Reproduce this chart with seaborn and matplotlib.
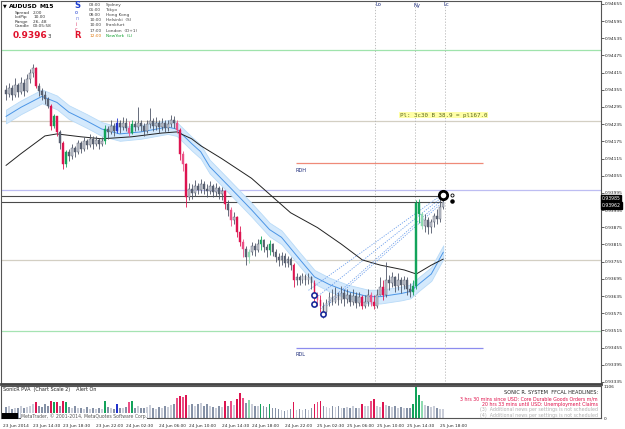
import numpy as np
import pandas as pd
import seaborn as sns
import matplotlib.pyplot as plt
from matplotlib.patches import Rectangle

sns.set_theme(style="white")
plt.rcParams['font.family'] = ['DejaVu Sans']

# AUDUSD M15, prices in points above 0.93000
opens = [1355,1340,1362,1336,1372,1346,1380,1352,1392,1412,
         1430,1368,1350,1338,1322,1300,1228,1262,1208,1170,
         1095,1139,1125,1152,1138,1168,1148,1178,1162,1185,
         1165,1180,1165,1178,1218,1208,1230,1212,1238,1225,
         1240,1222,1205,1235,1225,1240,1230,1210,1235,1245,
         1228,1240,1225,1238,1222,1235,1250,1240,1215,1130,
         1095,980,1010,995,1020,1005,1025,1010,1000,1018,
         998,1012,990,1000,955,935,900,910,860,825,
         800,770,790,810,795,815,830,805,795,815,
         790,770,760,775,750,765,745,690,700,690,
         705,690,700,680,640,620,600,580,610,630,
         615,640,620,645,625,640,615,635,610,630,
         600,615,640,615,600,640,665,640,690,680,
         700,670,690,675,690,660,650,670,960,920,
         880,900,875,895,915,905,945]
closes = [1340,1362,1336,1372,1346,1380,1352,1392,1412,1430,
          1368,1350,1338,1322,1300,1228,1262,1208,1170,1095,
          1139,1125,1152,1138,1168,1148,1178,1162,1185,1165,
          1180,1165,1178,1218,1208,1230,1212,1238,1225,1240,
          1222,1205,1235,1225,1240,1230,1210,1235,1245,1228,
          1240,1225,1238,1222,1235,1250,1240,1215,1130,1095,
          980,1010,995,1020,1005,1025,1010,1000,1018,998,
          1012,990,1000,955,935,900,910,860,825,800,
          770,790,810,795,815,830,805,795,815,790,
          770,760,775,750,765,745,690,700,690,705,
          690,700,680,640,620,600,580,610,630,615,
          640,620,645,625,640,615,635,610,630,600,
          615,640,615,600,640,665,640,690,680,700,
          670,690,675,690,660,650,670,960,920,880,
          900,875,895,915,905,945,962]
highs = [1372,1380,1372,1395,1380,1400,1392,1410,1428,1445,
         1435,1380,1362,1350,1330,1305,1270,1265,1215,1175,
         1145,1150,1165,1160,1180,1175,1190,1185,1200,1192,
         1195,1188,1190,1232,1230,1250,1240,1255,1250,1260,
         1255,1245,1250,1245,1296,1250,1240,1250,1292,1255,
         1260,1250,1255,1248,1250,1268,1265,1250,1220,1140,
         1100,1030,1025,1040,1030,1045,1035,1025,1035,1025,
         1030,1020,1015,1005,970,945,930,915,880,835,
         810,800,825,820,835,845,835,815,830,820,
         800,785,790,785,775,770,750,715,710,715,
         712,715,705,690,650,640,615,625,650,660,
         665,650,670,660,660,650,660,650,650,640,
         640,660,650,640,660,700,690,755,710,720,
         705,715,700,705,700,680,690,970,975,930,
         920,910,905,925,940,980,990]
lows = [1318,1330,1320,1330,1330,1340,1335,1348,1380,1400,
        1360,1335,1318,1305,1290,1215,1222,1195,1150,1080,
        1085,1105,1115,1120,1130,1135,1140,1150,1155,1150,
        1158,1150,1158,1165,1185,1200,1195,1205,1205,1215,
        1210,1195,1200,1210,1215,1210,1195,1205,1220,1210,
        1215,1205,1215,1208,1212,1225,1220,1205,1110,1070,
        945,970,975,985,990,995,990,980,990,980,
        985,975,970,940,915,880,885,840,810,770,
        745,750,780,775,790,795,790,770,780,775,
        755,740,745,735,735,725,665,675,672,680,
        675,678,660,615,600,580,558,575,600,605,
        610,605,610,600,610,600,605,595,600,590,
        595,600,600,590,595,640,620,630,655,665,
        650,655,645,660,640,630,640,660,890,870,
        860,850,855,875,885,895,940]
volumes = [380,420,300,360,330,410,350,390,430,470,
           560,420,380,470,410,580,560,540,430,600,
           560,380,350,400,330,360,310,370,300,340,
           320,360,300,600,380,350,320,470,360,340,
           380,560,600,360,420,350,330,380,440,360,
           320,390,350,420,380,450,470,690,760,730,
           780,450,500,420,470,520,400,480,430,380,
           350,420,390,580,430,600,460,640,860,700,
           520,620,480,430,400,500,420,380,470,360,
           340,300,260,240,280,300,560,280,300,260,
           320,280,350,480,560,600,420,380,350,400,
           370,420,350,330,380,360,400,350,330,500,
           400,420,600,660,420,380,560,450,420,380,
           400,350,380,330,360,340,480,1106,780,600,
           450,420,380,400,350,320,300]
# PVA colour code per bar: n normal, r red, p magenta, g green, l light green, b blue
pva = ("nnnnnnnnnn" "rnnnnrgrnr" "gnnnnnnnnn" "nnngnnnbnn" "npgnnnnnnn"
       "nnnnnnnprp" "rnnnnnnnnn" "nnnrnpnrrp" "nlnnngnngn" "nnnnnnrnnn"
       "nnnrprnnnn" "nnnnnnnnnr" "nnprnnrnnn" "nnnnnngggl" "nnnnnnn")

# moving averages (bar index, points)
ema_bar = [0, 5, 12, 17, 21, 27, 32, 38, 45, 54, 57, 62, 65, 68, 75, 82, 88, 92,
           98, 103, 108, 114, 121, 125, 132, 135, 138, 142, 146]
ema_mid = [1262, 1294, 1332, 1311, 1277, 1246, 1218, 1201, 1208, 1225, 1218, 1167, 1139,
           1087, 1012, 936, 867, 840, 764, 702, 675, 651, 633, 633, 644, 651, 678, 712, 788]
ema_half = 24
sma_bar = [0, 5, 13, 17, 25, 32, 42, 52, 57, 62, 65, 72, 82, 95, 104, 112, 119, 125,
           133, 137, 142, 146]
sma_val = [1091, 1132, 1194, 1201, 1191, 1184, 1191, 1204, 1208, 1184, 1160, 1115, 1046,
           926, 874, 816, 761, 743, 726, 712, 743, 764]

# projection lines and pivots
guide_bar0 = [101, 103, 105, 107]
guide_p0 = [655, 625, 590, 600]
guide_bar1 = [145, 145, 145, 145]
guide_p1 = [985, 975, 965, 955]
pivot_bar = [103, 103, 106]
pivot_p = [640, 606, 572]

price_ticks = [0.93335 + 0.0006 * k for k in range(23)]
time_bars = [-1, 9, 19, 30, 40, 51, 61, 72, 82, 93, 104, 114, 124, 134, 145]
time_labels = ["23 Jun 2014", "23 Jun 14:30", "23 Jun 18:30", "23 Jun 22:00", "24 Jun 02:30",
               "24 Jun 06:00", "24 Jun 10:00", "24 Jun 14:30", "24 Jun 18:00", "24 Jun 22:00",
               "25 Jun 02:30", "25 Jun 06:00", "25 Jun 10:00", "25 Jun 14:30", "25 Jun 18:00"]

pal = {"up": "#c9cdd8", "dn": "#8591a6", "r": "#dd1450", "p": "#ec4f86",
       "g": "#12a35a", "l": "#8edbb0", "b": "#2233cc"}

df = pd.DataFrame({"bar": np.arange(len(closes)),
                   "open": 0.93 + np.array(opens) / 1e5,
                   "close": 0.93 + np.array(closes) / 1e5,
                   "high": 0.93 + np.array(highs) / 1e5,
                   "low": 0.93 + np.array(lows) / 1e5,
                   "vol": volumes,
                   "code": list(pva)})
df["kind"] = [c if c != "n" else ("up" if cl >= op else "dn")
              for c, op, cl in zip(df.code, df.open, df.close)]

W, H = 625, 429
fig = plt.figure(figsize=(W / 100, H / 100), dpi=100)
fig.patch.set_facecolor("white")

def box(x0, y0, x1, y1):
    return [x0 / W, 1 - y1 / H, (x1 - x0) / W, (y1 - y0) / H]

ax = fig.add_axes(box(1, 1, 601, 384))
axv = fig.add_axes(box(1, 386, 601, 418))
xlim = (-5 / 3, 596 / 3)

# horizontal levels
for lvl, col in [(0.94495, "#9fe3ac"), (0.94246, "#d3cfc3"), (0.94005, "#bdbdf2"),
                 (0.93761, "#d3cfc3"), (0.93513, "#a5e3b2")]:
    ax.axhline(lvl, color=col, lw=0.9, zorder=1)
ax.hlines([0.94098], 96.7, 159.3, color="#ef8a78", lw=0.9, zorder=1)
ax.hlines([0.93455], 96.7, 159.3, color="#8c8cee", lw=0.9, zorder=1)
ax.hlines([0.93985, 0.93962], xlim[0], 146, color="#4a4a4a", lw=0.8, zorder=2)
for b in [123.3, 136.7, 146.7]:
    ax.axvline(b, color="#b4b4b4", lw=0.6, ls=(0, (1.5, 2)), zorder=1)

# dragon band + moving average
ema_p = 0.93 + np.array(ema_mid) / 1e5
ax.fill_between(ema_bar, ema_p - ema_half / 1e5, ema_p + ema_half / 1e5,
                color="#d4e9fc", lw=0.6, edgecolor="#b9dbf8", zorder=2)
sns.lineplot(x=ema_bar, y=ema_p, ax=ax, color="#4b95e6", lw=0.7, zorder=3)
sns.lineplot(x=sma_bar, y=0.93 + np.array(sma_val) / 1e5, ax=ax, color="#222222", lw=0.7, zorder=4)

for b0, p0, b1, p1 in zip(guide_bar0, guide_p0, guide_bar1, guide_p1):
    ax.plot([b0, b1], [0.93 + p0 / 1e5, 0.93 + p1 / 1e5], color="#6fa0ec",
            lw=0.6, ls=(0, (1.5, 1.5)), zorder=4)

# candles
ccol = [pal[k] if k not in ("up", "dn") else ("#c4c8d2" if k == "up" else "#5d6576")
        for k in df.kind]
wcol = [pal[k] if k not in ("up", "dn") else "#4d5566" for k in df.kind]
ax.vlines(df.bar, df.low, df.high, color=wcol, lw=0.6, zorder=5)
body = (df.close - df.open).where((df.close - df.open).abs() > 2e-5, 2e-5)
ax.bar(df.bar, body, bottom=df.open, width=0.62, color=ccol, edgecolor=wcol,
       lw=0.3, zorder=6)

ax.scatter(pivot_bar, 0.93 + np.array(pivot_p) / 1e5, s=14, facecolor="white",
           edgecolor="#1a2a9a", lw=1.2, zorder=8)
ax.scatter([146], [0.93988], s=36, facecolor="white", edgecolor="black", lw=2.0, zorder=8)
ax.scatter([149], [0.93988], s=5, facecolor="white", edgecolor="black", lw=0.6, zorder=8)
ax.scatter([149], [0.93966], s=5, color="black", zorder=8)

ax.set_xlim(*xlim)
ax.set_ylim(0.93328, 0.94665)
ax.yaxis.tick_right()
ax.set_yticks(price_ticks)
ax.set_yticklabels([f"{t:.5f}" for t in price_ticks])
ax.tick_params(axis="y", labelsize=3.2, length=2, width=0.5, pad=1, colors="#222222")
ax.set_xticks([])
for s in ax.spines.values():
    s.set_color("#555555")
    s.set_linewidth(0.8)
ax.spines["bottom"].set_linewidth(2.0)
ax.spines["bottom"].set_color("#444444")

# current price boxes
for p, y in [(0.93985, 198.5), (0.93962, 205.5)]:
    fig.text(602 / W, 1 - y / H, f"{p:.5f}", fontsize=3.3, color="white", va="center",
             bbox=dict(boxstyle="square,pad=0.12", fc="black", ec="black"))

# volume panel
sns.barplot(x=df.bar.astype(float), y=df.vol, ax=axv, native_scale=True, width=0.62,
            saturation=1, errorbar=None, color="#8591a6")
for patch, k in zip(sorted(axv.patches, key=lambda p: p.get_x()), df.kind):
    patch.set_facecolor(pal[k])
    patch.set_edgecolor("none")
axv.set_xlim(*xlim)
axv.set_ylim(0, 1106)
axv.yaxis.tick_right()
axv.set_yticks([0, 1106])
axv.set_yticklabels(["0", "1106"])
axv.tick_params(axis="y", labelsize=3.2, length=0, pad=2)
axv.set_xticks(time_bars)
axv.set_xticklabels(time_labels, ha="left")
axv.tick_params(axis="x", labelsize=3.05, length=2, width=0.5, pad=2)
axv.set_xlabel("")
axv.set_ylabel("")
for s in axv.spines.values():
    s.set_color("#555555")
    s.set_linewidth(0.8)

# texts
def tx(x, y, s, **kw):
    kw.setdefault("va", "center")
    fig.text(x / W, 1 - y / H, s, **kw)

tx(375, 5, "Lo", fontsize=3.8, color="#1c2b7a")
tx(414, 5, "Ny", fontsize=3.8, color="#1c2b7a")
tx(444, 5, "Lc", fontsize=3.8, color="#1c2b7a")
tx(400, 115, "Pl: 3c30 B 38.9 = pl167.0", fontsize=4.2, color="#5c6a20",
   family="DejaVu Sans Mono", bbox=dict(boxstyle="square,pad=0.15", fc="#ffffa6", ec="none"))
tx(296, 170, "RDH", fontsize=3.6, color="#1c2b7a")
tx(296, 355, "RDL", fontsize=3.6, color="#1c2b7a")

# info panel
fig.add_artist(Rectangle((2 / W, 1 - 42 / H), 148 / W, 41 / H, transform=fig.transFigure,
                         fc="#ececf0", ec="#a8a8a8", lw=0.5, zorder=0))
tx(3, 6, "▼", fontsize=3.5, color="black")
tx(9, 6, "AUDUSD", fontsize=4.4, weight="bold", color="black")
tx(40, 6, "M15", fontsize=4.4, weight="bold", color="black")
for k, (lab, val) in enumerate([("Spread", "2.00"), ("LotPip", "10.00"),
                                ("Range", "26, 48"), ("Candle", "00:05:58")]):
    tx(15, 13 + 4.4 * k, lab, fontsize=3.1, color="#333333")
    tx(33, 13 + 4.4 * k, val, fontsize=3.1, color="#333333")
tx(13, 35, "0.9396", fontsize=6.5, weight="bold", color="#e0102a")
tx(48, 36, "3", fontsize=4, color="#333333")
tx(74, 6, "S", fontsize=6, weight="bold", color="#2040d0")
for k, (ch, col) in enumerate([("o", "#2040d0"), ("n", "#7080e0"), ("i", "#e04070"), ("c", "#e04070")]):
    tx(75, 13 + 5.5 * k, ch, fontsize=3.5, color=col)
tx(74, 36, "R", fontsize=6, weight="bold", color="#e0102a")
sessions = [("03:00", "Sydney"), ("01:00", "Tokyo"), ("08:00", "Hong Kong"),
            ("10:00", "Helsinki  (S)"), ("10:00", "Frankfurt"), ("17:00", "London  (D+1)"),
            ("12:00", "NewYork  (L)")]
for k, (t, name) in enumerate(sessions):
    last = k == len(sessions) - 1
    tx(89, 5 + 5.1 * k, t, fontsize=3.1, color="#e07a10" if last else "#444444")
    tx(106, 5 + 5.1 * k, name, fontsize=3.1, color="#10a030" if last else "#444444")

tx(3, 390, "SonicR PVA  (Chart Scale 2)    Alert On", fontsize=3.5, color="#222222")
tx(598, 393, "SONIC R. SYSTEM  FFCAL HEADLINES:", fontsize=3.6, ha="right", color="#222222")
tx(598, 399, "3 hrs 30 mins since USD: Core Durable Goods Orders m/m", fontsize=3.4,
   ha="right", color="#e0104a")
tx(598, 404.5, "20 hrs 33 mins until USD: Unemployment Claims", fontsize=3.4, ha="right",
   color="#e0104a")
tx(598, 410, "(3)  Additional news per settings is not scheduled", fontsize=3.4, ha="right",
   color="#b0b0b0")
tx(598, 415.5, "(4)  Additional news per settings is not scheduled", fontsize=3.4, ha="right",
   color="#b0b0b0")
fig.add_artist(Rectangle((2 / W, 1 - 419 / H), 16 / W, 6 / H, transform=fig.transFigure,
                         fc="black", ec="black", lw=0))
tx(21, 416, "MetaTrader, © 2001-2014, MetaQuotes Software Corp.", fontsize=3.3, color="#555555",
   bbox=dict(boxstyle="square,pad=0.05", fc="white", ec="none"))

fig.savefig("out.png", dpi=100)
